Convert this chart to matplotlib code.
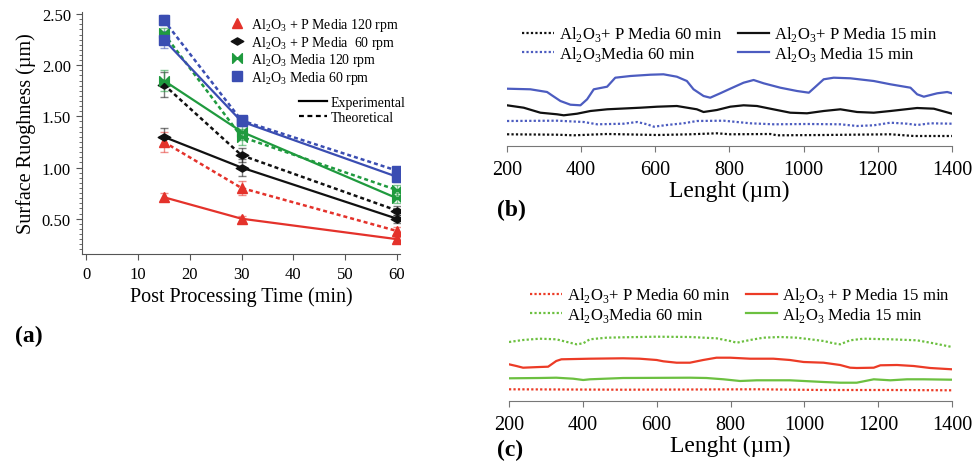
import numpy as np
import matplotlib
matplotlib.use("Agg")
import matplotlib.pyplot as plt
from matplotlib.lines import Line2D
from matplotlib.path import Path
from matplotlib.colors import to_rgba
from matplotlib.ticker import MultipleLocator, FormatStrFormatter

plt.rcParams['font.family'] = ['Liberation Serif', 'DejaVu Serif']

AL = r'Al$_\mathregular{2}$O$_\mathregular{3}$'

# ---- panel (a): surface roughness vs time ----
times = [15, 30, 60]

p120_exp = [0.71, 0.50, 0.30]
p120_theo = [1.25, 0.80, 0.38]
p60_exp = [1.30, 1.00, 0.50]
p60_theo = [1.81, 1.12, 0.58]
m120_exp = [1.85, 1.35, 0.70]
m120_theo = [2.31, 1.30, 0.78]
m60_exp = [2.25, 1.45, 0.91]
m60_theo = [2.44, 1.46, 0.97]

p120_exp_err = [0.04, 0.03, 0.02]
p120_theo_err = [0.10, 0.07, 0.04]
p60_exp_err = [0.09, 0.08, 0.04]
p60_theo_err = [0.12, 0.07, 0.04]
m120_exp_err = [0.10, 0.08, 0.05]
m120_theo_err = [0.05, 0.08, 0.05]
m60_exp_err = [0.08, 0.04, 0.05]
m60_theo_err = [0.05, 0.04, 0.03]

legend_a = [AL + ' + P Media 120 rpm', AL + ' + P Media  60 rpm',
            AL + ' Media 120 rpm', AL + ' Media 60 rpm']

# ---- panel (b): profiles (arbitrary height units) ----
b_m15_x = [200, 263, 308, 321, 344, 371, 398, 416, 434, 470, 492, 533, 587, 622, 658, 685, 703,
           730, 748, 775, 802, 838, 865, 892, 937, 982, 1014, 1032, 1054, 1081, 1126, 1189, 1234,
           1288, 1306, 1324, 1360, 1387, 1400]
b_m15_y = [5.73, 5.67, 5.40, 5.07, 4.50, 4.13, 4.07, 4.67, 5.67, 5.93, 6.83, 7.00, 7.13, 7.17, 6.93,
           6.50, 5.67, 5.00, 4.83, 5.27, 5.73, 6.33, 6.60, 6.27, 5.83, 5.50, 5.33, 5.93, 6.67, 6.83,
           6.77, 6.50, 6.17, 5.83, 5.17, 4.93, 5.27, 5.40, 5.27]
b_p15_x = [200, 245, 290, 335, 353, 389, 425, 470, 560, 605, 658, 712, 730, 766, 802, 838, 874, 910,
           964, 1009, 1054, 1099, 1144, 1189, 1234, 1306, 1351, 1400]
b_p15_y = [4.07, 3.83, 3.33, 3.17, 3.07, 3.23, 3.50, 3.67, 3.83, 3.93, 4.00, 3.67, 3.40, 3.60, 3.93,
           4.07, 4.00, 3.73, 3.33, 3.27, 3.50, 3.67, 3.40, 3.33, 3.50, 3.80, 3.73, 3.23]
b_m60_x = [200, 335, 407, 443, 515, 551, 578, 596, 631, 676, 712, 784, 856, 919, 1009, 1099, 1144,
           1189, 1234, 1279, 1306, 1342, 1400]
b_m60_y = [2.50, 2.53, 2.40, 2.17, 2.23, 2.40, 2.17, 1.93, 2.10, 2.27, 2.50, 2.53, 2.27, 2.17, 2.20,
           2.17, 2.00, 2.07, 2.33, 2.23, 2.10, 2.27, 2.23]
b_p60_x = [200, 335, 380, 470, 605, 694, 766, 802, 910, 928, 1054, 1234, 1297, 1400]
b_p60_y = [1.17, 1.13, 1.07, 1.20, 1.10, 1.17, 1.27, 1.17, 1.20, 1.07, 1.10, 1.17, 1.00, 1.00]

# ---- panel (c): profiles ----
c_m60_x = [200, 238, 283, 328, 365, 383, 401, 419, 464, 509, 600, 690, 762, 799, 817, 853, 889, 934,
           980, 1016, 1052, 1079, 1097, 1124, 1160, 1233, 1305, 1350, 1400]
c_m60_y = [5.90, 6.10, 6.23, 6.17, 5.83, 5.67, 5.77, 6.17, 6.33, 6.37, 6.43, 6.40, 6.27, 6.00, 5.83,
           6.10, 6.33, 6.40, 6.33, 6.17, 6.00, 5.77, 5.67, 6.07, 6.23, 6.17, 6.07, 5.77, 5.40]
c_p15_x = [200, 220, 238, 283, 306, 328, 342, 419, 509, 554, 600, 618, 654, 690, 726, 762, 799, 853,
           916, 961, 998, 1052, 1097, 1124, 1142, 1188, 1206, 1251, 1296, 1341, 1400]
c_p15_y = [3.67, 3.50, 3.33, 3.40, 3.43, 4.00, 4.17, 4.23, 4.27, 4.23, 4.10, 3.97, 3.83, 3.83, 4.10,
           4.33, 4.33, 4.23, 4.23, 4.10, 3.90, 3.83, 3.60, 3.33, 3.30, 3.33, 3.57, 3.60, 3.50, 3.30, 3.17]
c_m15_x = [200, 283, 328, 374, 401, 419, 509, 690, 735, 781, 826, 871, 961, 1052, 1097, 1142, 1188,
           1233, 1278, 1323, 1400]
c_m15_y = [2.27, 2.30, 2.33, 2.23, 2.10, 2.17, 2.30, 2.33, 2.30, 2.17, 2.00, 2.07, 2.07, 1.90, 1.83,
           1.83, 2.17, 2.07, 2.17, 2.17, 2.13]
c_p60_x = [200, 509, 871, 1052, 1233, 1400]
c_p60_y = [1.17, 1.13, 1.17, 1.10, 1.10, 1.07]

RED = '#e4322b'
BLACK = '#111111'
GREEN = '#1f9a3e'
BLUE = '#3a4db2'
BLUE_B = '#4c5cc0'
RED_C = '#ec3b26'
GREEN_C = '#6cc040'

bowtie = Path([(-1, 1), (1, -1), (1, 1), (-1, -1), (-1, 1)],
              [Path.MOVETO, Path.LINETO, Path.LINETO, Path.LINETO, Path.CLOSEPOLY])
wide_diamond = Path([(-1.3, 0), (0, 0.75), (1.3, 0), (0, -0.75), (-1.3, 0)],
                    [Path.MOVETO, Path.LINETO, Path.LINETO, Path.LINETO, Path.CLOSEPOLY])

W, H = 979, 464
fig = plt.figure(figsize=(W / 100, H / 100), dpi=100)


def px_rect(left, top, right, bottom):
    return [left / W, 1 - bottom / H, (right - left) / W, (bottom - top) / H]


# ------------------ (a) ------------------
ax = fig.add_axes(px_rect(82, 13, 400, 255))
groups = [
    (p120_exp, p120_exp_err, p120_theo, p120_theo_err, RED, '^', 7),
    (p60_exp, p60_exp_err, p60_theo, p60_theo_err, BLACK, wide_diamond, 9),
    (m120_exp, m120_exp_err, m120_theo, m120_theo_err, GREEN, bowtie, 7),
    (m60_exp, m60_exp_err, m60_theo, m60_theo_err, BLUE, 's', 6.5),
]
for exp, exp_err, theo, theo_err, col, mk, ms in groups:
    ecol = to_rgba(col, 0.55)
    ax.errorbar(times, theo, yerr=theo_err, color=col, ecolor=ecol, linestyle=(0, (1.6, 1.2)),
                linewidth=1.8, marker=mk, markersize=ms, capsize=3, elinewidth=1, capthick=1)
    ax.errorbar(times, exp, yerr=exp_err, color=col, ecolor=ecol, linestyle='-',
                linewidth=1.6, marker=mk, markersize=ms, capsize=3, elinewidth=1, capthick=1)

ax.set_xlim(-0.8, 60.6)
ax.set_ylim(0.155, 2.52)
ax.set_xticks([0, 10, 20, 30, 40, 50, 60])
ax.set_yticks([0.5, 1.0, 1.5, 2.0, 2.5])
ax.yaxis.set_major_formatter(FormatStrFormatter('%.2f'))
ax.yaxis.set_minor_locator(MultipleLocator(0.05))
for s in ['top', 'right']:
    ax.spines[s].set_visible(False)
for s in ['left', 'bottom']:
    ax.spines[s].set_color('#555555')
ax.tick_params(axis='x', which='major', labelsize=12, length=4, color='#555555', pad=5)
ax.tick_params(axis='y', which='major', labelsize=12, length=4, color='#555555', pad=4)
ax.tick_params(axis='y', which='minor', length=2, color='#555555')
ax.set_xlabel('Post Processing Time (min)', fontsize=14.5, labelpad=3)
ax.set_ylabel('Surface Ruoghness (\u00b5m)', fontsize=14.5, labelpad=4)

mk_handles = [Line2D([], [], color=g[4], marker=g[5], markersize=g[6], linestyle='none') for g in groups]
fig.legend(mk_handles, legend_a, loc='upper left', bbox_to_anchor=(222 / W, 1 - 10 / H),
           frameon=False, fontsize=10, borderpad=0, labelspacing=0.04, handlelength=1.2,
           handletextpad=0.4)
ln_handles = [Line2D([], [], color='black', linewidth=1.6),
              Line2D([], [], color='black', linewidth=1.6, linestyle=(0, (2.2, 1.6)))]
fig.legend(ln_handles, ['Experimental', 'Theoretical'], loc='upper left',
           bbox_to_anchor=(292 / W, 1 - 90 / H), frameon=False, fontsize=10, borderpad=0,
           labelspacing=0.15, handlelength=2.0, handletextpad=0.3)

fig.text(15 / W, 1 - 336 / H, '(a)', fontsize=17, fontweight='bold', va='center', ha='left')


# ------------------ (b) & (c) ------------------
def profile_axes(rect, ytop):
    a = fig.add_axes(rect)
    a.set_xlim(200, 1400)
    a.set_ylim(0, ytop)
    for s in ['top', 'right', 'left']:
        a.spines[s].set_visible(False)
    a.spines['bottom'].set_color('#777777')
    a.set_yticks([])
    a.set_xticks(range(200, 1401, 200))
    a.tick_params(axis='x', labelsize=14.5, length=4, color='#777777', pad=6)
    a.set_xlabel('Lenght (\u00b5m)', fontsize=17, labelpad=1)
    return a


axb = profile_axes(px_rect(507, 20, 952, 147), 12.7)
lb1, = axb.plot(b_p60_x, b_p60_y, color=BLACK, linestyle=(0, (1, 1)), linewidth=1.6)
lb2, = axb.plot(b_m60_x, b_m60_y, color=BLUE_B, linestyle=(0, (1, 1)), linewidth=1.6)
lb3, = axb.plot(b_p15_x, b_p15_y, color=BLACK, linewidth=1.6)
lb4, = axb.plot(b_m15_x, b_m15_y, color=BLUE_B, linewidth=1.6)
fig.legend([lb1, lb2, lb3, lb4],
           [AL + '+ P Media 60 min', AL + 'Media 60 min', AL + '+ P Media 15 min', AL + ' Media 15 min'],
           ncol=2, loc='upper left', bbox_to_anchor=(514 / W, 1 - 17 / H), frameon=False, fontsize=12,
           borderpad=0, labelspacing=0.02, handlelength=1.9, handletextpad=0.3, columnspacing=0.9)
fig.text(497 / W, 1 - 210 / H, '(b)', fontsize=17, fontweight='bold', va='center', ha='left')

axc = profile_axes(px_rect(509, 282, 952, 402), 12.0)
lc1, = axc.plot(c_p60_x, c_p60_y, color=RED_C, linestyle=(0, (1, 1)), linewidth=1.6)
lc2, = axc.plot(c_m60_x, c_m60_y, color=GREEN_C, linestyle=(0, (1, 1)), linewidth=1.6)
lc3, = axc.plot(c_p15_x, c_p15_y, color=RED_C, linewidth=1.6)
lc4, = axc.plot(c_m15_x, c_m15_y, color=GREEN_C, linewidth=1.6)
fig.legend([lc1, lc2, lc3, lc4],
           [AL + '+ P Media 60 min', AL + 'Media 60 min', AL + ' + P Media 15 min', AL + ' Media 15 min'],
           ncol=2, loc='upper left', bbox_to_anchor=(522 / W, 1 - 278 / H), frameon=False, fontsize=12,
           borderpad=0, labelspacing=0.02, handlelength=1.9, handletextpad=0.3, columnspacing=0.9)
fig.text(497 / W, 1 - 450 / H, '(c)', fontsize=17, fontweight='bold', va='center', ha='left')

fig.savefig('out.png', dpi=100)
